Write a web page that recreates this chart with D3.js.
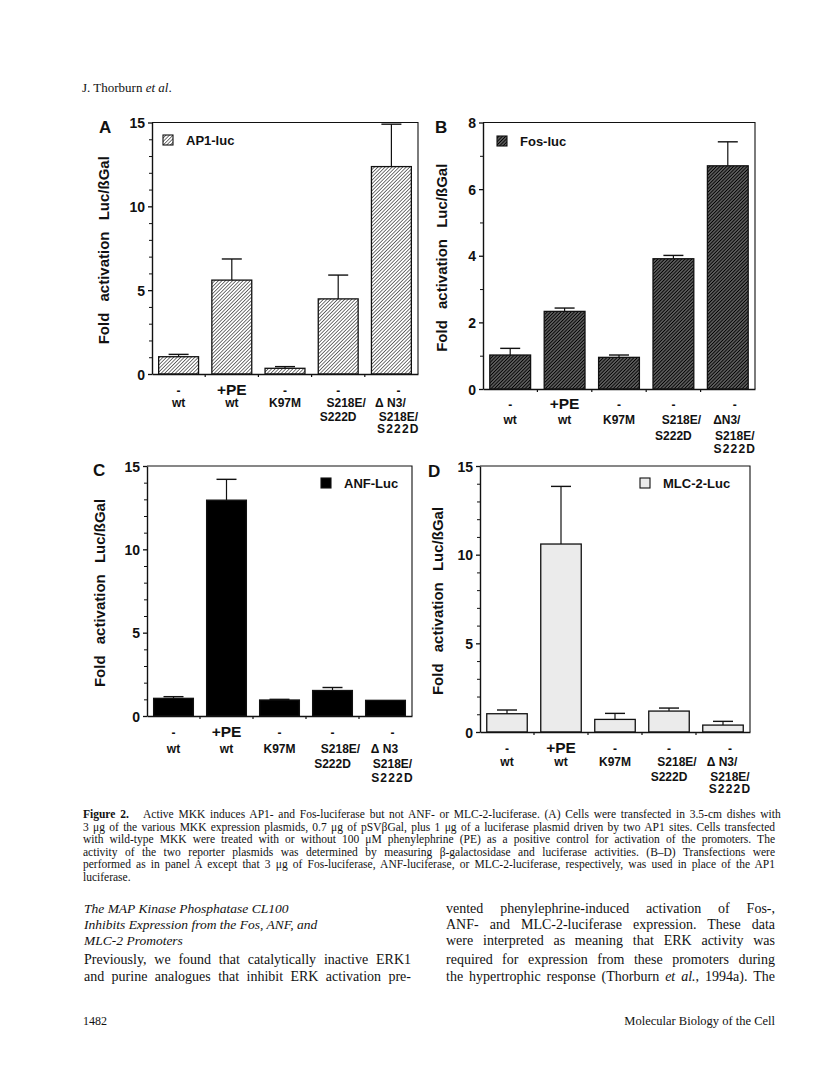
<!DOCTYPE html>
<html>
<head>
<meta charset="utf-8">
<script src="https://cdn.jsdelivr.net/npm/d3@7.9.0/dist/d3.min.js"></script>
<style>
  html, body { margin: 0; padding: 0; background: #fff; }
  svg { display: block; }
  .lab { font-family: "Liberation Sans", Arial, sans-serif; font-weight: bold; fill: #111; }
  .serif { font-family: "Liberation Serif", "Times New Roman", serif; fill: #111; }
</style>
</head>
<body>
<svg id="page" width="816" height="1089"></svg>
<script>
// data
const labelsA = [['-', 'wt'], ['+PE', 'wt'], ['-', 'K97M'], ['-', 'S218E/', 'S222D'], ['-', 'Δ N3/', 'S218E/', 'S222D']];
const labelsB = [['-', 'wt'], ['+PE', 'wt'], ['-', 'K97M'], ['-', 'S218E/', 'S222D'], ['-', 'ΔN3/', 'S218E/', 'S222D']];
const labelsC = [['-', 'wt'], ['+PE', 'wt'], ['-', 'K97M'], ['-', 'S218E/', 'S222D'], ['-', 'Δ N3', 'S218E/', 'S222D']];
const labelsD = [['-', 'wt'], ['+PE', 'wt'], ['-', 'K97M'], ['-', 'S218E/', 'S222D'], ['-', 'Δ N3/', 'S218E/', 'S222D']];

const ap1Values = [1.03, 5.6, 0.34, 4.48, 12.37];
const ap1ErrTop = [1.17, 6.86, 0.44, 5.9, 14.9];
const fosValues = [1.02, 2.33, 0.95, 3.91, 6.7];
const fosErrTop = [1.22, 2.43, 1.02, 4.01, 7.42];
const anfValues = [1.06, 12.95, 0.96, 1.53, 0.94];
const anfErrTop = [1.16, 14.2, 1.0, 1.71, 0.94];
const mlcValues = [1.03, 10.6, 0.71, 1.18, 0.39];
const mlcErrTop = [1.24, 13.85, 1.05, 1.35, 0.6];

const ticks15 = [0, 5, 10, 15];
const ticks8 = [0, 2, 4, 6, 8];

const captionLines = [
  'Active MKK induces AP1- and Fos-luciferase but not ANF- or MLC-2-luciferase. (A) Cells were transfected in 3.5-cm dishes with',
  '3 μg of the various MKK expression plasmids, 0.7 μg of pSVβGal, plus 1 μg of a luciferase plasmid driven by two AP1 sites. Cells transfected',
  'with wild-type MKK were treated with or without 100 μM phenylephrine (PE) as a positive control for activation of the promoters. The',
  'activity of the two reporter plasmids was determined by measuring β-galactosidase and luciferase activities. (B–D) Transfections were',
  'performed as in panel A except that 3 μg of Fos-luciferase, ANF-luciferase, or MLC-2-luciferase, respectively, was used in place of the AP1',
  'luciferase.'
];
const headingLines = ['The MAP Kinase Phosphatase CL100', 'Inhibits Expression from the Fos, ANF, and', 'MLC-2 Promoters'];
const leftBody = ['Previously, we found that catalytically inactive ERK1', 'and purine analogues that inhibit ERK activation pre-'];
const rightBody = [
  'vented phenylephrine-induced activation of Fos-,',
  'ANF- and MLC-2-luciferase expression. These data',
  'were interpreted as meaning that ERK activity was',
  'required for expression from these promoters during',
  'the hypertrophic response (Thorburn et al., 1994a). The'
];

const svg = d3.select('#page');
const defs = svg.append('defs');

// fills
const pLight = defs.append('pattern').attr('id', 'hatchLight').attr('patternUnits', 'userSpaceOnUse')
  .attr('width', 2.5).attr('height', 2.5).attr('patternTransform', 'rotate(45)');
pLight.append('rect').attr('width', 2.5).attr('height', 2.5).attr('fill', '#fff');
pLight.append('line').attr('x1', 0).attr('y1', 0).attr('x2', 0).attr('y2', 2.5)
  .attr('stroke', '#1a1a1a').attr('stroke-width', 1.2);

const pDark = defs.append('pattern').attr('id', 'hatchDark').attr('patternUnits', 'userSpaceOnUse')
  .attr('width', 2.4).attr('height', 2.4).attr('patternTransform', 'rotate(45)');
pDark.append('rect').attr('width', 2.4).attr('height', 2.4).attr('fill', '#5a5a5a');
pDark.append('line').attr('x1', 0).attr('y1', 0).attr('x2', 0).attr('y2', 2.4)
  .attr('stroke', '#000').attr('stroke-width', 1.6);

const panels = [
  { letter: 'A', legend: 'AP1-luc', fill: 'url(#hatchLight)', values: ap1Values, err: ap1ErrTop, labels: labelsA,
    max: 15, ticks: ticks15, minorStep: 1,
    x0: 152, x1: 418, yTop: 122.5, yZero: 374, lx: 99, ly: 133, gx: 163, gy: 135, tx: 104,
    lines: [21, 33, 47, 59] },
  { letter: 'B', legend: 'Fos-luc', fill: 'url(#hatchDark)', values: fosValues, err: fosErrTop, labels: labelsB,
    max: 8, ticks: ticks8, minorStep: 1,
    x0: 483, x1: 755, yTop: 122.5, yZero: 389, lx: 435, ly: 133, gx: 497, gy: 136, tx: 442,
    lines: [20, 35, 51, 64] },
  { letter: 'C', legend: 'ANF-Luc', fill: '#000', values: anfValues, err: anfErrTop, labels: labelsC,
    max: 15, ticks: ticks15, minorStep: 1,
    x0: 147, x1: 412, yTop: 466, yZero: 716, lx: 93, ly: 476, gx: 321, gy: 478, tx: 100,
    lines: [21, 37, 52, 66] },
  { letter: 'D', legend: 'MLC-2-Luc', fill: '#ebebeb', values: mlcValues, err: mlcErrTop, labels: labelsD,
    max: 15, ticks: ticks15, minorStep: 1,
    x0: 480, x1: 750, yTop: 466, yZero: 732, lx: 428, ly: 477, gx: 640, gy: 478, tx: 438,
    lines: [21, 34, 49, 61] }
];

function drawPanel(p) {
  const g = svg.append('g');
  const x = d3.scaleBand().domain(d3.range(p.values.length)).range([p.x0, p.x1])
    .paddingInner(0.25).paddingOuter(0.125);
  const y = d3.scaleLinear().domain([0, p.max]).range([p.yZero, p.yTop]);

  // frame (top and right)
  g.append('path')
    .attr('d', `M${p.x0},${p.yTop}H${p.x1}V${p.yZero}`)
    .attr('fill', 'none').attr('stroke', '#111').attr('stroke-width', 1.1);

  // bars
  g.selectAll('rect.bar').data(p.values).join('rect')
    .attr('x', (d, i) => x(i))
    .attr('width', x.bandwidth())
    .attr('y', (d) => y(d))
    .attr('height', (d) => y(0) - y(d))
    .attr('fill', p.fill)
    .attr('stroke', '#111').attr('stroke-width', 1.3);

  // error bars (upper only)
  p.err.forEach((e, i) => {
    if (e <= p.values[i]) return;
    const cx = x(i) + x.bandwidth() / 2;
    g.append('line').attr('x1', cx).attr('x2', cx).attr('y1', y(p.values[i])).attr('y2', y(e))
      .attr('stroke', '#111').attr('stroke-width', 1.2);
    g.append('line').attr('x1', cx - 10).attr('x2', cx + 10).attr('y1', y(e)).attr('y2', y(e))
      .attr('stroke', '#111').attr('stroke-width', 1.4);
  });

  // y axis
  const minor = d3.range(0, p.max + 0.001, p.minorStep).filter((v) => !p.ticks.includes(v));
  const yAxis = g.append('g').attr('transform', `translate(${p.x0},0)`)
    .call(d3.axisLeft(y).tickValues(p.ticks).tickSize(4).tickSizeOuter(0).tickPadding(3).tickFormat(d3.format('d')));
  yAxis.select('.domain').attr('stroke', '#111').attr('stroke-width', 1.4);
  yAxis.selectAll('.tick line').attr('stroke', '#111').attr('stroke-width', 1.3);
  yAxis.selectAll('.tick text').attr('class', 'lab').style('font-size', '14px').attr('dy', '0.36em');
  const yMinor = g.append('g').attr('transform', `translate(${p.x0},0)`)
    .call(d3.axisLeft(y).tickValues(minor).tickSize(3).tickSizeOuter(0).tickFormat(''));
  yMinor.select('.domain').remove();
  yMinor.selectAll('.tick line').attr('stroke', '#111').attr('stroke-width', 1);

  // x axis
  const xAxis = g.append('g').attr('transform', `translate(0,${p.yZero})`)
    .call(d3.axisBottom(x).tickSize(0).tickSizeOuter(0).tickFormat(''));
  xAxis.select('.domain').attr('stroke', '#111').attr('stroke-width', 1.4);
  const gap = (x.step() - x.bandwidth()) / 2;
  d3.range(1, p.values.length).forEach((i) => {
    const bx = x(i) - gap;
    g.append('line').attr('x1', bx).attr('x2', bx).attr('y1', p.yZero).attr('y2', p.yZero + 3)
      .attr('stroke', '#111').attr('stroke-width', 1.2);
  });

  // category labels
  p.labels.forEach((lines, i) => {
    const cx = x(i) + x.bandwidth() / 2;
    lines.forEach((t, k) => {
      let dx = 0;
      if (t.startsWith('S218E') && i === 3) dx = 8;
      if (i === 4) dx = k === 1 ? -1 : 7;
      g.append('text').attr('class', 'lab')
        .attr('x', cx + dx).attr('y', p.yZero + p.lines[k])
        .attr('text-anchor', 'middle')
        .style('font-size', t === '+PE' ? '15.5px' : '12px')
        .style('letter-spacing', (i === 4 && k === 3) ? '1.2px' : '0px')
        .text(t);
    });
  });

  // axis title
  g.append('text').attr('class', 'lab')
    .attr('transform', `translate(${p.tx + 5},${(p.yTop + p.yZero) / 2 + 2}) rotate(-90)`)
    .attr('text-anchor', 'middle')
    .style('font-size', '15px').style('word-spacing', '7px')
    .text('Fold activation Luc/ßGal');

  // panel letter
  g.append('text').attr('class', 'lab').attr('x', p.lx).attr('y', p.ly)
    .style('font-size', '17px').text(p.letter);

  // legend
  g.append('rect').attr('x', p.gx).attr('y', p.gy).attr('width', 10).attr('height', 10)
    .attr('fill', p.fill).attr('stroke', '#111').attr('stroke-width', 1.1);
  g.append('text').attr('class', 'lab').attr('x', p.gx + 23).attr('y', p.gy + 9.5)
    .style('font-size', '13px').text(p.legend);
}

panels.forEach(drawPanel);

// stretch a text line to a column width by widening the word gaps
function justify(t, width) {
  const node = t.node();
  const natural = node.getComputedTextLength();
  const spaces = (node.textContent.match(/ /g) || []).length;
  if (spaces > 0) t.style('word-spacing', `${(width - natural) / spaces}px`);
}

// running header
svg.append('text').attr('class', 'serif').attr('x', 82).attr('y', 92).style('font-size', '13px')
  .call((t) => {
    t.append('tspan').text('J. Thorburn ');
    t.append('tspan').style('font-style', 'italic').text('et al');
    t.append('tspan').text('.');
  });

// caption
const capX0 = 83, capX1 = 775, capY = 818, capStep = 12.6;
captionLines.forEach((line, i) => {
  const t = svg.append('text').attr('class', 'serif').attr('x', capX0).attr('y', capY + i * capStep)
    .style('font-size', '11.5px');
  if (i === 0) {
    t.append('tspan').style('font-weight', 'bold').text('Figure 2.');
    t.append('tspan').text('\u00a0\u00a0\u00a0' + line);
  } else {
    t.text(line);
  }
  if (i < captionLines.length - 1) justify(t, capX1 - capX0);
});

// section heading and body text in two columns
const colL0 = 84, colL1 = 411, colR0 = 446, colR1 = 775;
const rowY = [913, 929, 945, 964, 981];
headingLines.forEach((line, i) => {
  svg.append('text').attr('class', 'serif').attr('x', colL0).attr('y', rowY[i])
    .style('font-size', '13.5px').style('font-style', 'italic').text(line);
});
leftBody.forEach((line, i) => {
  const t = svg.append('text').attr('class', 'serif').attr('x', colL0).attr('y', rowY[i + 3])
    .style('font-size', '14px').text(line);
  justify(t, colL1 - colL0);
});
rightBody.forEach((line, i) => {
  const t = svg.append('text').attr('class', 'serif').attr('x', colR0).attr('y', rowY[i])
    .style('font-size', '14px');
  if (line.includes('et al.')) {
    const [a, b] = line.split('et al.');
    t.append('tspan').text(a);
    t.append('tspan').style('font-style', 'italic').text('et al.');
    t.append('tspan').text(b);
  } else {
    t.text(line);
  }
  justify(t, colR1 - colR0);
});

// footer
svg.append('text').attr('class', 'serif').attr('x', 83).attr('y', 1025).style('font-size', '12px').text('1482');
svg.append('text').attr('class', 'serif').attr('x', 775).attr('y', 1025).attr('text-anchor', 'end')
  .style('font-size', '12.5px').text('Molecular Biology of the Cell');
</script>
</body>
</html>
